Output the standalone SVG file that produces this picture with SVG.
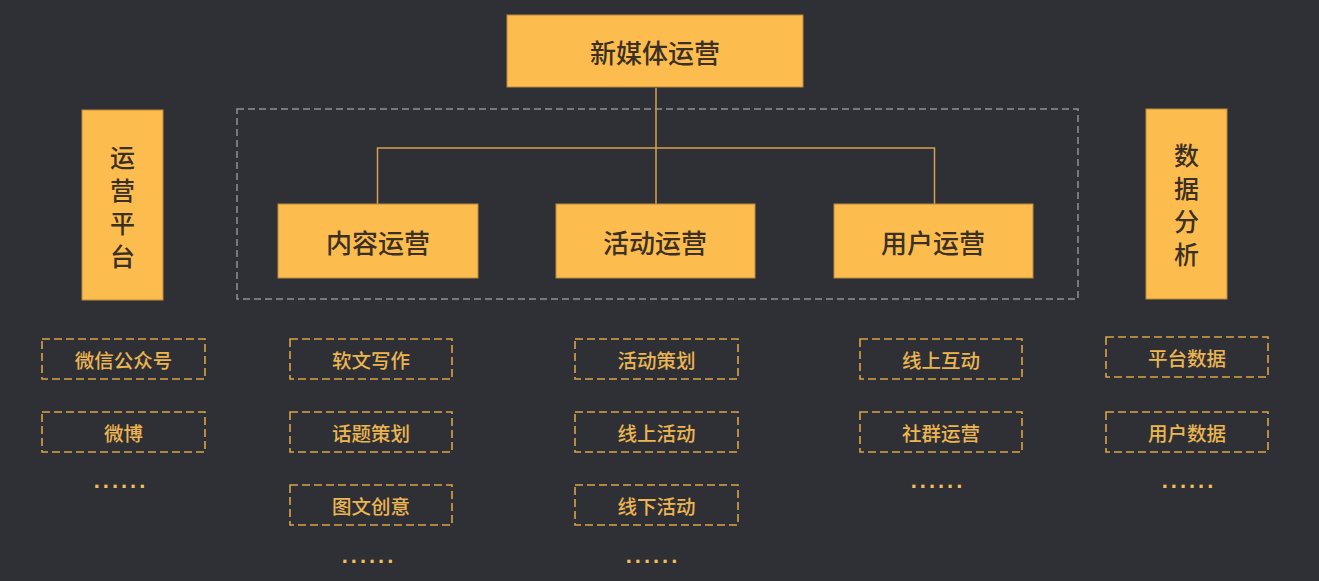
<svg xmlns="http://www.w3.org/2000/svg" width="1319" height="581" viewBox="0 0 1319 581">
<style>
.bg{fill:#2f3035}
.main{fill:#fdbd4e;stroke:#b98a3a;stroke-width:1}
.mt{font-family:"Noto Sans CJK SC","Liberation Sans",sans-serif;font-size:26px;font-weight:500;fill:#3b3023;text-anchor:middle;dominant-baseline:central}
.vt{font-family:"Noto Sans CJK SC","Liberation Sans",sans-serif;font-size:25px;font-weight:500;fill:#3b3023;text-anchor:middle;writing-mode:vertical-rl;letter-spacing:8px}
.sub{fill:none;stroke:#d9a448;stroke-width:1.6;stroke-dasharray:8 4}
.st{font-family:"Noto Sans CJK SC","Liberation Sans",sans-serif;font-size:19.5px;font-weight:500;fill:#ebb552;text-anchor:middle;dominant-baseline:central}
.dots{font-family:"Liberation Sans",sans-serif;font-size:22px;font-weight:bold;fill:#f2bf55;text-anchor:middle;letter-spacing:3px}
.line{fill:none;stroke:#d7a152;stroke-width:1.5}
.frame{fill:none;stroke:#8f9096;stroke-width:1.5;stroke-dasharray:7 4}
</style>
<rect class="bg" x="0" y="0" width="1319" height="581"/>
<rect class="frame" x="237" y="109" width="841" height="190"/>
<g id="connectors">
<path class="line" d="M656 88 V148 M377.5 204 V148 H934.5 V204 M656 148 V204"/>
</g>
<g id="root"><rect class="main" x="507" y="15" width="296" height="72"/><text class="mt" x="655" y="51">新媒体运营</text></g>
<g id="content"><rect class="main" x="278" y="204" width="200" height="74"/><text class="mt" x="378" y="241">内容运营</text></g>
<g id="activity"><rect class="main" x="556" y="204" width="199" height="74"/><text class="mt" x="655" y="241">活动运营</text></g>
<g id="user"><rect class="main" x="834" y="204" width="199" height="74"/><text class="mt" x="933" y="241">用户运营</text></g>
<g id="platform"><rect class="main" x="82" y="110" width="81" height="190"/>
<text class="vt" x="122.5" y="210.5">运营平台</text></g>
<g id="data"><rect class="main" x="1146" y="109" width="81" height="190"/>
<text class="vt" x="1186.5" y="209">数据分析</text></g>
<g id="c1">
<g id="wechat"><rect class="sub" x="42" y="339" width="163" height="40"/><text class="st" x="123.5" y="359">微信公众号</text></g>
<g id="weibo"><rect class="sub" x="42" y="412" width="163" height="40"/><text class="st" x="123.5" y="432">微博</text></g>
<text class="dots" x="121" y="488">......</text>
</g>
<g id="c2">
<g id="softtext"><rect class="sub" x="290" y="339" width="162" height="40"/><text class="st" x="371" y="359">软文写作</text></g>
<g id="topic"><rect class="sub" x="290" y="412" width="162" height="40"/><text class="st" x="371" y="432">话题策划</text></g>
<g id="graphic"><rect class="sub" x="290" y="485" width="162" height="40"/><text class="st" x="371" y="505">图文创意</text></g>
<text class="dots" x="369" y="563">......</text>
</g>
<g id="c3">
<g id="plan"><rect class="sub" x="575" y="339" width="163" height="40"/><text class="st" x="656.5" y="359">活动策划</text></g>
<g id="online"><rect class="sub" x="575" y="412" width="163" height="40"/><text class="st" x="656.5" y="432">线上活动</text></g>
<g id="offline"><rect class="sub" x="575" y="485" width="163" height="40"/><text class="st" x="656.5" y="505">线下活动</text></g>
<text class="dots" x="653" y="563">......</text>
</g>
<g id="c4">
<g id="interact"><rect class="sub" x="860" y="339" width="162" height="40"/><text class="st" x="941" y="359">线上互动</text></g>
<g id="community"><rect class="sub" x="860" y="412" width="162" height="40"/><text class="st" x="941" y="432">社群运营</text></g>
<text class="dots" x="938" y="488">......</text>
</g>
<g id="c5">
<g id="pdata"><rect class="sub" x="1106" y="337" width="162" height="40"/><text class="st" x="1187" y="357">平台数据</text></g>
<g id="udata"><rect class="sub" x="1106" y="412" width="162" height="40"/><text class="st" x="1187" y="432">用户数据</text></g>
<text class="dots" x="1189" y="488">......</text>
</g>
</svg>
